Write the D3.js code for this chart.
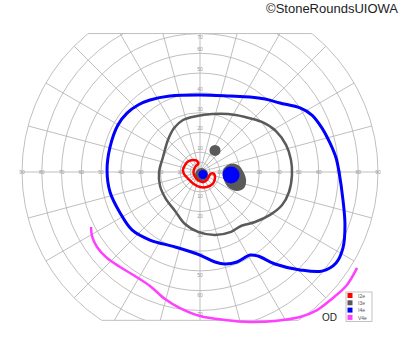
<!DOCTYPE html>
<html>
<head>
<meta charset="utf-8">
<script src="https://cdn.jsdelivr.net/npm/d3@7"></script>
<style>
  body { margin: 0; background: #fff; }
  svg { display: block; font-family: 'Liberation Sans', Arial, sans-serif; }
</style>
</head>
<body>
<svg class="chart"></svg>
<script>
const width = 400
const height = 352
const cx = 200
const cy = 172
const radius = 178
const topEcc = 70
const bottomEcc = 75

// grid
const rings = [5, 10, 20, 30, 40, 50, 60, 70, 80, 90]
const meridians = d3.range(0, 360, 15)
const sideTicks = [10, 20, 30, 40, 50, 60, 70, 80, 90]
const upTicks = [10, 20, 30, 40, 50, 60, 70]
const downTicks = [10, 20, 30, 40, 50, 60, 70]

// isopters, [horizontal deg, vertical deg]
const isopterNames = ['I2e', 'I3e', 'I4e', 'V4e']
const isopterColors = ['#ff0000', '#5a5a5a', '#0000ff', '#ff40ff']

const i2e = [
  [-8.6, 1.0], [-7.6, 3.5], [-6.1, 5.3], [-3.5, 6.1], [-1.5, 5.6], [-0.8, 4.3],
  [-2.5, 2.5], [-3.3, 0], [-2.5, -2.5], [-0.8, -4.3], [1.8, -5.1], [3.5, -4.0],
  [4.6, -2.0], [5.6, -0.8], [7.1, -1.0], [7.6, -3.0], [6.6, -5.8], [3.5, -7.6],
  [0, -7.6], [-3.5, -5.8], [-6.1, -3.3], [-8.1, -1.0]
]

const i3e = [
  [-20.7, 0], [-18.7, 7.6], [-16.2, 16.2], [-13.1, 22.2], [-8.6, 26.3], [-1.5, 28.3],
  [6.1, 29.3], [14.2, 29.3], [22.8, 27.8], [31.3, 25.3], [38.4, 20.7], [43.5, 13.7],
  [46.0, 6.1], [46.5, -1.5], [45.0, -10.1], [41.5, -16.7], [35.4, -21.7], [27.8, -25.3],
  [20.7, -27.3], [15.7, -30.3], [7.6, -31.9], [-1.0, -30.3], [-7.6, -26.3],
  [-12.6, -19.7], [-17.2, -13.7], [-20.2, -7.1]
]

const i4e = [
  [-47.0, 1.0], [-45.5, 12.6], [-41.5, 23.8], [-36.9, 29.8], [-31.3, 33.9], [-25.3, 36.4],
  [-15.2, 38.4], [0, 38.9], [15.2, 38.4], [25.3, 37.9], [32.9, 36.9], [40.4, 34.9],
  [50.6, 32.4], [56.6, 28.8], [61.7, 22.2], [65.7, 14.7], [68.8, 7.1], [70.3, 0],
  [72.3, -14.2], [73.3, -26.8], [72.3, -38.4], [68.8, -46.0], [61.7, -50.1],
  [50.6, -49.5], [37.9, -46.5], [29.3, -42.5], [25.3, -42.0], [18.7, -45.5],
  [12.6, -46.5], [7.6, -45.5], [0, -42.0], [-12.6, -37.9], [-25.3, -34.4],
  [-34.4, -29.3], [-40.4, -20.7], [-45.5, -10.1]
]

const v4e = [
  [-55.1, -27.8], [-54.6, -32.4], [-52.1, -37.9], [-47.0, -43.5], [-40.4, -48.0],
  [-32.9, -52.6], [-25.3, -57.6], [-17.7, -64.2], [-10.1, -68.8], [0, -72.8],
  [12.6, -74.8], [25.3, -75.8], [37.9, -75.3], [50.6, -73.3], [59.2, -69.8],
  [67.2, -63.7], [74.3, -57.1], [79.4, -48.5]
]

// scotomas
const blindSpotI3e = [
  [11.6, 1.0], [15.2, 4.0], [19.2, 3.5], [21.7, 0.5], [23.3, -4.0],
  [22.3, -8.1], [18.7, -9.6], [14.7, -8.1], [12.1, -4.0]
]
const spotsI3e = [[0.8, -1.3, 3.3], [7.6, 10.9, 2.8]] // x, y, radius (deg)
const spotsI4e = [[1.5, -1.3, 2.3], [15.7, -1.5, 4.3]]

const x = d3.scaleLinear().domain([-90, 90]).range([cx - radius, cx + radius])
const y = d3.scaleLinear().domain([-90, 90]).range([cy + radius, cy - radius])
const r = d3.scaleLinear().domain([0, 90]).range([0, radius])

const svg = d3.select('.chart').attr('width', width).attr('height', height)

const defs = svg.append('defs')
defs.append('clipPath').attr('id', 'field-circle')
  .append('circle').attr('cx', cx).attr('cy', cy).attr('r', r(90) + 1)
defs.append('clipPath').attr('id', 'field-band')
  .append('rect')
  .attr('x', 0).attr('width', width)
  .attr('y', y(topEcc)).attr('height', y(-bottomEcc) - y(topEcc))

const grid = svg.append('g')
  .attr('clip-path', 'url(#field-band)')
  .append('g')
  .attr('clip-path', 'url(#field-circle)')
  .attr('fill', 'none')
  .attr('stroke', '#b8b8b8')
  .attr('stroke-width', 0.9)

grid.selectAll('circle')
  .data(rings)
  .join('circle')
  .attr('cx', cx).attr('cy', cy)
  .attr('r', d => r(d))

grid.selectAll('line')
  .data(meridians)
  .join('line')
  .attr('x1', cx).attr('y1', cy)
  .attr('x2', d => x(90 * Math.cos(d * Math.PI / 180)))
  .attr('y2', d => y(90 * Math.sin(d * Math.PI / 180)))

// top and bottom chords of the chart
const chord = e => Math.sqrt(90 * 90 - e * e)
svg.append('g')
  .attr('stroke', '#b8b8b8')
  .attr('stroke-width', 0.9)
  .selectAll('line')
  .data([topEcc, -bottomEcc])
  .join('line')
  .attr('x1', d => x(-chord(d))).attr('x2', d => x(chord(d)))
  .attr('y1', d => y(d)).attr('y2', d => y(d))

// tick labels
const labels = svg.append('g')
  .attr('font-size', 5)
  .attr('fill', '#9a9a9a')
  .attr('text-anchor', 'middle')
  .attr('dominant-baseline', 'central')

labels.selectAll('.hl')
  .data(sideTicks.flatMap(d => [-d, d]))
  .join('text')
  .attr('x', d => x(d))
  .attr('y', cy)
  .text(d => Math.abs(d))

labels.selectAll('.up')
  .data(upTicks)
  .join('text')
  .attr('x', cx)
  .attr('y', d => Math.max(y(d) - 4, y(topEcc) + 3))
  .text(d => d)

labels.selectAll('.down')
  .data(downTicks)
  .join('text')
  .attr('x', cx)
  .attr('y', d => y(-d) + 4)
  .text(d => d)

// isopters
const closed = d3.line().x(d => x(d[0])).y(d => y(d[1])).curve(d3.curveCatmullRomClosed)
const open = d3.line().x(d => x(d[0])).y(d => y(d[1])).curve(d3.curveCatmullRom)

svg.append('path')
  .attr('d', open(v4e))
  .attr('fill', 'none')
  .attr('stroke', isopterColors[3])
  .attr('stroke-width', 2.5)

svg.append('path')
  .attr('d', closed(i4e))
  .attr('fill', 'none')
  .attr('stroke', isopterColors[2])
  .attr('stroke-width', 3)

svg.append('path')
  .attr('d', closed(i3e))
  .attr('fill', 'none')
  .attr('stroke', isopterColors[1])
  .attr('stroke-width', 2.5)

svg.append('path')
  .attr('d', closed(blindSpotI3e))
  .attr('fill', isopterColors[1])

svg.append('g')
  .attr('fill', isopterColors[1])
  .selectAll('circle')
  .data(spotsI3e)
  .join('circle')
  .attr('cx', d => x(d[0])).attr('cy', d => y(d[1]))
  .attr('r', d => r(d[2]))

svg.append('g')
  .attr('fill', isopterColors[2])
  .selectAll('circle')
  .data(spotsI4e)
  .join('circle')
  .attr('cx', d => x(d[0])).attr('cy', d => y(d[1]))
  .attr('r', d => r(d[2]))

svg.append('path')
  .attr('d', closed(i2e))
  .attr('fill', 'none')
  .attr('stroke', isopterColors[0])
  .attr('stroke-width', 2.5)

// legend
const legend = svg.append('g').attr('transform', 'translate(346,292)')
legend.append('rect')
  .attr('width', 26).attr('height', 29.5)
  .attr('fill', '#fff')
  .attr('stroke', '#aaa')
  .attr('stroke-width', 0.7)
const item = legend.selectAll('g')
  .data(isopterNames)
  .join('g')
  .attr('transform', (d, i) => `translate(1.5,${1 + i * 7.3})`)
item.append('rect')
  .attr('width', 5).attr('height', 5)
  .attr('fill', (d, i) => isopterColors[i])
item.append('text')
  .attr('x', 10.5).attr('y', 2.6)
  .attr('dominant-baseline', 'central')
  .attr('font-size', 5)
  .attr('fill', '#555')
  .text(d => d)

svg.append('text')
  .attr('x', 322).attr('y', 321)
  .attr('font-size', 10)
  .attr('fill', '#222')
  .text('OD')

svg.append('text')
  .attr('x', 398).attr('y', 13)
  .attr('text-anchor', 'end')
  .attr('font-size', 13)
  .attr('fill', '#222')
  .text('©StoneRoundsUIOWA')
</script>
</body>
</html>
